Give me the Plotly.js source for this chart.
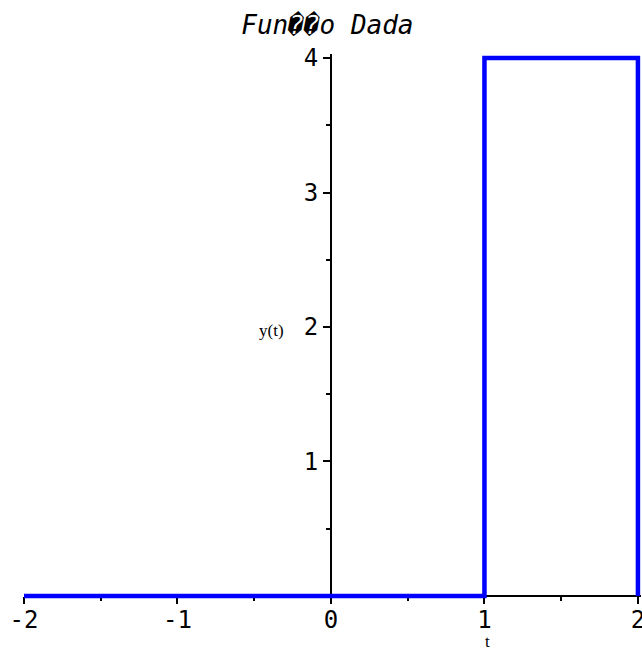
<!DOCTYPE html>
<html>
<head>
<meta charset="utf-8">
<script src="https://cdn.plot.ly/plotly-3.0.1.min.js"></script>
<style>html,body{margin:0;padding:0;background:#fff;}#chart{width:642px;height:650px;}</style>
</head>
<body>
<div id="chart"></div>
<script>
const tValues = [-2, 1, 1, 2, 2];
const yValues = [0, 0, 4, 4, 0];
const xTickVals = [-2, -1, 0, 1, 2];
const xTickText = ['-2', '-1', '0', '1', '2'];
const yTickVals = [1, 2, 3, 4];
const yTickText = ['1', '2', '3', '4'];
const titleText = 'Fun\uFFFD\uFFFDo Dada';
const xLabel = 't';
const yLabel = 'y(t)';

const trace = {
  x: tValues, y: yValues, type: 'scatter', mode: 'lines',
  line: {color: '#0000ff', width: 4.5, shape: 'linear'},
  hoverinfo: 'skip'
};

const tickFont = {family: 'DejaVu Sans Mono', size: 24, color: '#000'};
const xPad = 0.02, yPad = 0.03;
const xr = [-2, 2 + xPad], yr = [-yPad, 4 + yPad];

const layout = {
  width: 642, height: 650,
  margin: {l: 24, r: 1, t: 54, b: 50},
  paper_bgcolor: '#fff', plot_bgcolor: '#fff',
  showlegend: false,
  title: {text: '<i>' + titleText + '</i>', font: {family: 'DejaVu Sans Mono', size: 26, color: '#000'},
          x: 0.51, xanchor: 'center', y: 0.961, yanchor: 'middle'},
  xaxis: {
    range: xr, showgrid: false, zeroline: false,
    anchor: 'free', position: (0 - yr[0]) / (yr[1] - yr[0]),
    showline: true, linecolor: '#000', linewidth: 2, layer: 'below traces',
    ticks: 'outside', ticklen: 7, tickwidth: 2, tickcolor: '#000',
    tickvals: xTickVals, ticktext: xTickText, tickfont: tickFont,
    ticklabeloverflow: 'allow', ticklabelstandoff: -5,
    minor: {tickvals: [-1.5, -0.5, 0.5, 1.5], ticks: 'outside', ticklen: 4, tickwidth: 2, tickcolor: '#000'},
    fixedrange: true
  },
  yaxis: {
    range: yr, showgrid: false, zeroline: false,
    anchor: 'free', position: (0 - xr[0]) / (xr[1] - xr[0]),
    showline: true, linecolor: '#000', linewidth: 2, layer: 'below traces',
    ticks: 'outside', ticklen: 7, tickwidth: 2, tickcolor: '#000',
    tickvals: yTickVals, ticktext: yTickText, tickfont: tickFont,
    ticklabeloverflow: 'allow',
    minor: {tickvals: [0.5, 1.5, 2.5, 3.5], ticks: 'outside', ticklen: 4, tickwidth: 2, tickcolor: '#000'},
    fixedrange: true
  },
  annotations: [
    {text: yLabel, xref: 'paper', yref: 'y', x: 0.425, y: 2, yshift: -3, xanchor: 'right', yanchor: 'middle', showarrow: false,
     font: {family: 'Liberation Serif', size: 17, color: '#000'}},
    {text: xLabel, xref: 'x', yref: 'y', x: 1.02, y: 0, yshift: -46, xanchor: 'center', yanchor: 'middle', showarrow: false,
     font: {family: 'Liberation Serif', size: 17, color: '#000'}}
  ]
};

Plotly.newPlot('chart', [trace], layout, {displayModeBar: false, staticPlot: true});
</script>
</body>
</html>
